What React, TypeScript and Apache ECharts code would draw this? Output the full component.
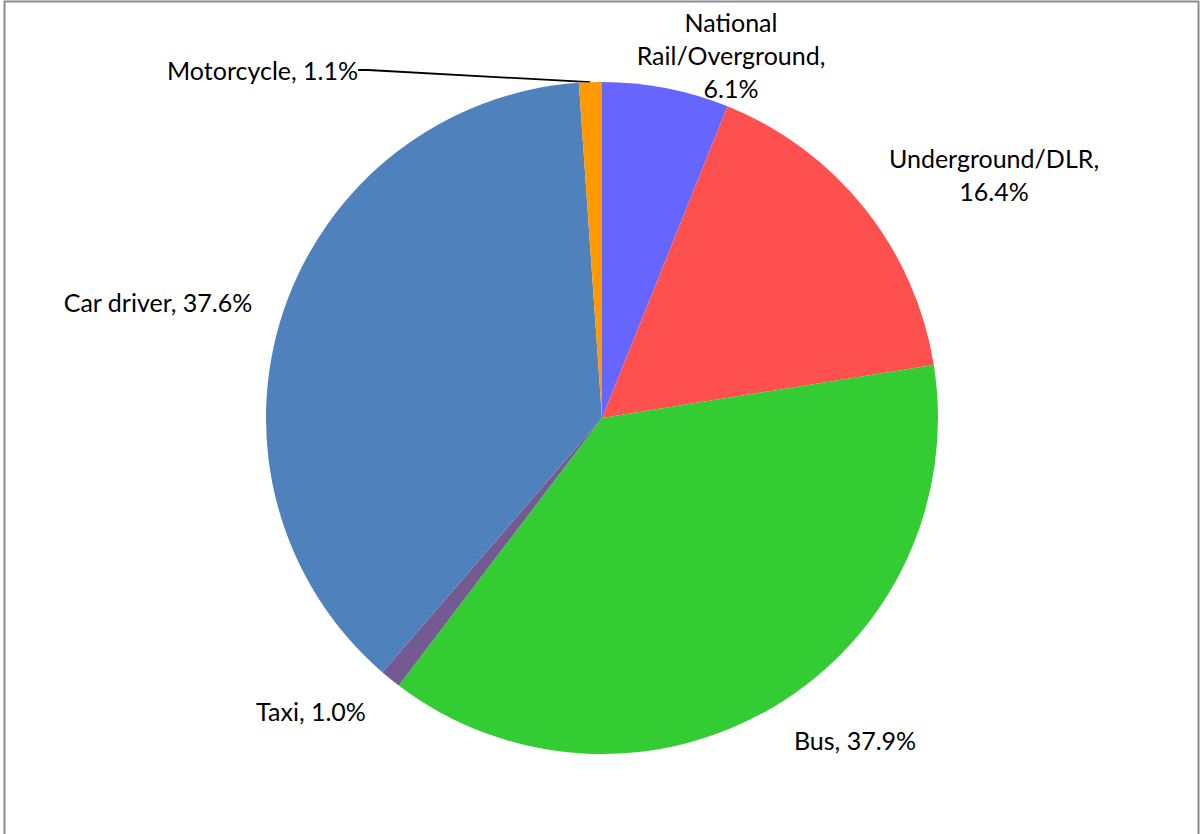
import React, { useEffect, useRef } from "react";
import * as echarts from "echarts";

const categories = ["National\nRail/Overground", "Underground/DLR", "Bus", "Taxi", "Car driver", "Motorcycle"];
const values = [6.1, 16.4, 37.9, 1.0, 37.6, 1.1];
const colors = ["#6666FF", "#FF5050", "#33CC33", "#735A91", "#4F81BD", "#FF9900"];
const labelSeparators = [",\n", ",\n", ", ", ", ", ", ", ", "];

// label anchor positions (px) and alignments
const labelPos: [number, number, string][] = [
  [731, 55, "center"],
  [994, 174, "center"],
  [855, 740, "center"],
  [311, 711, "center"],
  [158, 302, "center"],
  [358, 70, "right"],
];

export default function App() {
  const ref = useRef<HTMLDivElement>(null);
  useEffect(() => {
    const chart = echarts.init(ref.current!, undefined, { renderer: "svg" });
    chart.setOption({
      animation: false,
      backgroundColor: "#ffffff",
      graphic: [
        {
          type: "rect",
          shape: { x: 4.5, y: 1.5, width: 1194, height: 1000 },
          style: { fill: "none", stroke: "#8c8c8c", lineWidth: 2 },
          silent: true,
        },
      ],
      series: [
        {
          type: "pie",
          center: [602, 418],
          radius: 336,
          startAngle: 90,
          clockwise: true,
          avoidLabelOverlap: false,
          itemStyle: { borderWidth: 0 },
          data: categories.map((name, i) => ({
            name,
            value: values[i],
            itemStyle: { color: colors[i] },
            label: {
              formatter: name + labelSeparators[i] + values[i].toFixed(1) + "%",
              align: labelPos[i][2],
            },
            labelLine: i === 5 ? { show: true, lineStyle: { color: "#000", width: 1.8 } } : { show: false },
          })),
          label: {
            show: true,
            position: "outside",
            color: "#000",
            fontFamily: "Lato",
            fontSize: 25,
            lineHeight: 33,
          },
          labelLine: { show: false, length: 10, length2: 10, smooth: false },
          labelLayout: (params: any) => {
            const p = labelPos[params.dataIndex];
            return {
              x: p[0],
              y: p[1],
              align: p[2],
              verticalAlign: "middle",
            };
          },
        },
      ],
    });
    return () => chart.dispose();
  }, []);
  return <div ref={ref} style={{ position: "fixed", left: 0, top: 0, width: 1200, height: 834 }} />;
}
